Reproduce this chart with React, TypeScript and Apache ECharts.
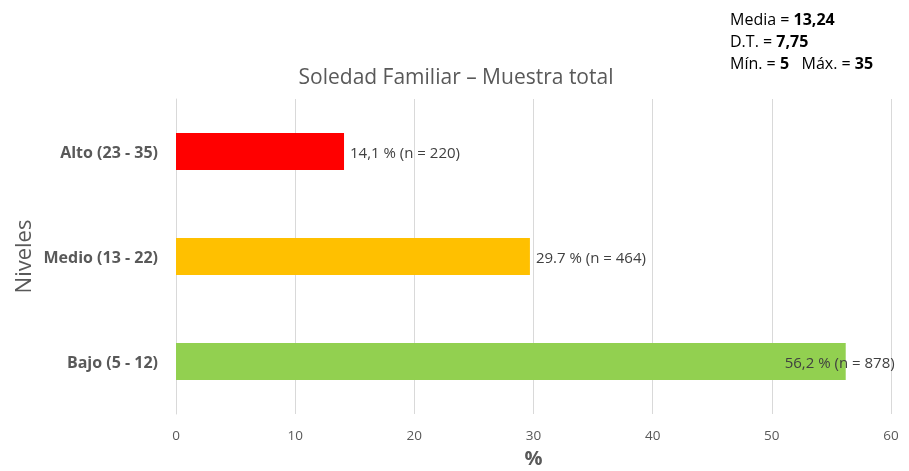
import React, { useEffect, useRef } from "react";
import * as echarts from "echarts";

const categories = ["Bajo (5 - 12)", "Medio (13 - 22)", "Alto (23 - 35)"];
const values = [56.2, 29.7, 14.1];
const counts = [878, 464, 220];
const labelTexts = ["56,2 % (n = 878)", "29.7 % (n = 464)", "14,1 % (n = 220)"];
const colors = ["#92d050", "#ffc000", "#ff0000"];
const statLines = [
  ["Media = ", "13,24"],
  ["D.T. = ", "7,75"],
];

export default function App() {
  const ref = useRef<HTMLDivElement>(null);
  useEffect(() => {
    const chart = echarts.init(ref.current!, null, { renderer: "svg" });
    const font = "'Open Sans', 'Noto Sans', sans-serif";
    chart.setOption({
      animation: false,
      textStyle: { fontFamily: font },
      title: {
        text: "Soledad Familiar – Muestra total",
        left: 451,
        top: 60,
        textAlign: "center",
        textStyle: { fontSize: 21, fontWeight: "normal", color: "#595959", fontFamily: font },
      },
      grid: { left: 176, right: 18, top: 99, bottom: 57, containLabel: false, outerBoundsMode: "none" },
      xAxis: {
        type: "value",
        min: 0,
        max: 60,
        interval: 10,
        name: "%",
        nameLocation: "middle",
        nameGap: 33,
        nameTextStyle: { fontSize: 20, fontWeight: "bold", color: "#595959", fontFamily: font },
        axisLine: { show: false },
        axisTick: { show: false },
        axisLabel: { fontSize: 13.5, color: "#595959", margin: 14 },
        splitLine: { lineStyle: { color: "#d9d9d9", width: 1 } },
      },
      yAxis: {
        type: "category",
        data: categories,
        name: "Niveles",
        nameLocation: "middle",
        nameGap: 141,
        nameRotate: 90,
        nameTextStyle: { fontSize: 22, color: "#595959", fontFamily: font },
        axisLine: { show: true, lineStyle: { color: "#d9d9d9" } },
        axisTick: { show: false },
        axisLabel: { fontSize: 16, fontWeight: "bold", color: "#595959", margin: 18 },
      },
      series: [
        {
          type: "bar",
          barWidth: 37,
          data: values.map((v, i) => ({
            value: v,
            itemStyle: { color: colors[i] },
            label: {
              show: true,
              position: "right",
              offset: i === 0 ? [-67, 0] : [0, 0],
              formatter: () => labelTexts[i],
              fontSize: 15,
              color: "#404040",
              distance: 6,
            },
          })),
        },
      ],
      graphic: [
        {
          type: "text",
          left: 730,
          top: 8,
          style: {
            text: statLines.map((l) => `${l[0]}{b|${l[1]}}`).join("\n") + "\nMín. = {b|5}   Máx. = {b|35}",
            fontSize: 16,
            lineHeight: 22,
            fill: "#000",
            fontFamily: font,
            rich: { b: { fontWeight: "bold", fontSize: 16, lineHeight: 22, fontFamily: font, fill: "#000" } },
          },
        },
      ],
    });
    return () => chart.dispose();
  }, []);
  return <div ref={ref} style={{ position: "fixed", left: 0, top: 0, width: 909, height: 471 }} />;
}
